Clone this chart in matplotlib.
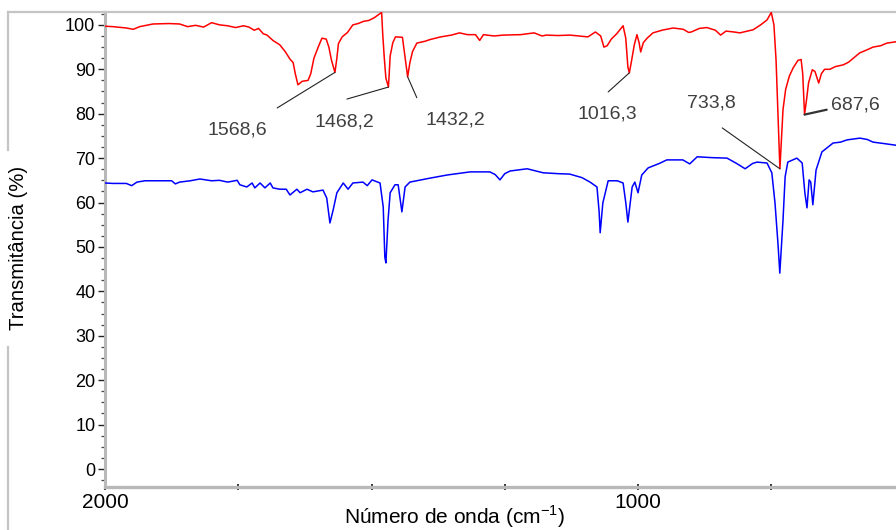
import matplotlib
matplotlib.use("Agg")
import matplotlib.pyplot as plt
from matplotlib.ticker import MultipleLocator, FixedLocator
from matplotlib.lines import Line2D

# ---------------- data ----------------
red_wn = [2000, 1985, 1960, 1947, 1935, 1910, 1880, 1860, 1845, 1830, 1815, 1800, 1785, 1770,
          1755, 1740, 1730, 1720, 1712, 1703, 1696, 1685, 1672, 1662, 1653, 1647, 1643, 1638,
          1630, 1619, 1614, 1608, 1600, 1593, 1585, 1580, 1575, 1568.6, 1565, 1562, 1555, 1545,
          1535, 1525, 1515, 1505, 1495, 1488, 1481, 1479, 1476, 1473, 1468.2, 1465, 1460, 1455,
          1442, 1438, 1432.2, 1428, 1423, 1415, 1400, 1390, 1370, 1350, 1335, 1320, 1305, 1297,
          1290, 1270, 1253, 1220, 1195, 1180, 1172, 1150, 1128, 1110, 1094, 1080, 1070, 1064,
          1058, 1050, 1040, 1028, 1023, 1019, 1016.3, 1012, 1007, 1002, 998, 995, 990, 983, 972,
          955, 934, 915, 905, 900, 885, 871, 855, 845, 835, 820, 809, 795, 784, 770, 758, 750,
          745, 741, 738, 735, 733.8, 731, 728, 723, 716, 709, 700, 694, 691, 687.6, 684, 680,
          673, 668, 664, 661, 656, 650, 640, 630, 615, 605, 595, 584, 570, 559, 545, 533, 516, 510]
red_t = [99.7, 99.6, 99.3, 99.0, 99.6, 100.2, 100.3, 100.2, 99.6, 99.9, 99.5, 100.5, 100.0, 99.8,
         99.4, 99.8, 99.5, 98.8, 99.2, 98.0, 97.7, 96.5, 95.5, 94.0, 92.3, 91.5, 89.0, 86.5,
         87.3, 87.5, 89.0, 92.5, 95.0, 97.0, 96.8, 95.0, 92.0, 89.3, 92.5, 95.8, 97.3, 98.3,
         100.0, 100.3, 100.8, 101.0, 101.6, 102.2, 102.8, 98.0, 92.5, 88.0, 86.0, 93.0, 96.0, 97.3,
         97.2, 93.5, 88.3, 91.5, 94.0, 95.9, 96.3, 96.7, 97.3, 97.7, 98.2, 97.8, 97.8, 96.5,
         97.8, 97.5, 97.7, 97.8, 98.2, 97.5, 97.7, 97.6, 97.7, 97.5, 97.3, 98.4, 97.5, 95.0,
         95.3, 96.8, 98.0, 99.8, 97.0, 90.5, 89.2, 92.0, 95.5, 97.8, 96.0, 93.9, 96.0, 97.0, 98.2,
         98.8, 99.3, 99.0, 98.3, 98.4, 99.2, 99.4, 98.8, 97.7, 98.6, 98.4, 98.2, 98.6, 98.9, 100.0, 101.1, 102.8,
         100.0, 92.0, 82.0, 72.0, 67.6, 74.0, 80.9, 85.5, 88.5, 90.3, 92.0, 92.2, 89.0, 79.8, 83.0, 87.0,
         89.9, 89.5, 88.0, 86.9, 89.0, 90.0, 90.0, 90.6, 91.0, 91.6, 92.6, 93.7, 94.4, 95.0, 95.3, 95.9, 96.2, 96.3]

blue_wn = [2000, 1985, 1960, 1950, 1940, 1925, 1900, 1875, 1868, 1860, 1840, 1822, 1800, 1785, 1770,
           1752, 1747, 1734, 1724, 1719, 1709, 1700, 1690, 1685, 1672, 1660, 1653, 1640, 1634, 1621,
           1610, 1591, 1584, 1578, 1572, 1565, 1553, 1544, 1535, 1516, 1508, 1499, 1484, 1478, 1475,
           1473, 1469, 1465, 1456, 1450, 1443, 1437, 1428, 1390, 1358, 1315, 1278, 1268, 1259, 1250,
           1240, 1208, 1178, 1150, 1128, 1105, 1090, 1077, 1073, 1071, 1066, 1056, 1039, 1028, 1023,
           1019, 1011, 1006, 1000, 993, 981, 960, 946, 916, 903, 889, 860, 833, 815, 799, 785, 777,
           758, 749, 743, 737, 734, 728, 724, 719, 702, 692, 687, 683, 679, 676, 672, 666, 655, 634,
           620, 608, 584, 570, 559, 540, 516, 510]
blue_t = [64.4, 64.3, 64.3, 63.8, 64.6, 64.9, 64.9, 64.9, 64.2, 64.6, 64.9, 65.3, 64.9, 65.0, 64.6,
          65.0, 64.0, 63.5, 64.4, 63.3, 64.4, 63.3, 64.4, 63.3, 63.0, 63.0, 61.7, 63.0, 62.2, 63.0,
          62.4, 62.8, 61.0, 55.4, 58.3, 62.2, 64.4, 63.0, 64.4, 64.6, 63.8, 65.1, 64.4, 59.0, 47.7,
          46.4, 56.0, 62.2, 64.0, 64.0, 57.9, 63.5, 64.6, 65.5, 66.2, 66.9, 66.9, 66.3, 65.1, 66.5,
          67.1, 67.6, 66.7, 66.5, 66.4, 65.6, 64.6, 63.5, 58.0, 53.2, 59.9, 64.9, 64.9, 64.4, 60.0,
          55.6, 63.5, 64.6, 62.2, 66.2, 67.8, 68.8, 69.6, 69.6, 68.7, 70.3, 70.1, 70.0, 68.8, 67.6, 68.8, 69.1,
          68.9, 66.7, 59.9, 50.0, 44.1, 56.0, 65.8, 69.1, 70.0, 68.9, 62.2, 58.8, 65.1, 64.6, 59.5, 67.3, 71.4, 73.4,
          73.6, 74.1, 74.5, 74.2, 73.6, 73.3, 72.9, 72.8]

peak_labels = ["1568,6", "1468,2", "1432,2", "1016,3", "733,8", "687,6"]
peak_wn = [1568.6, 1468.2, 1432.2, 1016.3, 733.8, 687.6]

x_ticks = [2000, 1000]
y_ticks = [0, 10, 20, 30, 40, 50, 60, 70, 80, 90, 100]

# ---------------- figure ----------------
W, H = 896, 530
fig = plt.figure(figsize=(W / 100, H / 100), dpi=100)
fig.patch.set_facecolor("white")

x0, x1 = 105, 896
y_top, y_bot = 12, 487
ax = fig.add_axes([x0 / W, (H - y_bot) / H, (x1 - x0) / W, (y_bot - y_top) / H])

ax.plot(red_wn, red_t, color="#ff0000", lw=1.1, zorder=3)
ax.plot(blue_wn, blue_t, color="#0000ff", lw=1.1, zorder=3)

ax.set_xlim(2000, 516)
ax.set_ylim(-4.05, 102.9)

# spines
ax.spines["right"].set_visible(False)
ax.spines["top"].set_color("#c4c4c4")
ax.spines["top"].set_linewidth(1.6)
ax.spines["left"].set_color("#b8b8b8")
ax.spines["left"].set_linewidth(2.2)
ax.spines["bottom"].set_color("#b8b8b8")
ax.spines["bottom"].set_linewidth(2.4)

# ticks
ax.yaxis.set_major_locator(FixedLocator(y_ticks))
ax.yaxis.set_minor_locator(MultipleLocator(2.5))
ax.xaxis.set_major_locator(FixedLocator(x_ticks))
ax.xaxis.set_minor_locator(MultipleLocator(250))
ax.tick_params(axis="y", which="major", length=5, width=1.0, color="#222222", pad=2,
               labelsize=13, labelcolor="black")
ax.tick_params(axis="y", which="minor", length=3, width=0.9, color="#444444")
ax.tick_params(axis="x", which="both", direction="inout", length=4, width=1.4, color="#333333",
               pad=2)
ax.tick_params(axis="x", which="major", labelsize=15)
for lab in ax.get_yticklabels():
    lab.set_family(["Liberation Sans", "DejaVu Sans"])
for lab in ax.get_xticklabels():
    lab.set_family(["Liberation Sans", "DejaVu Sans"])

# axis labels
fig.text(18 / W, 1 - 248 / H, "Transmitância (%)", rotation=90, ha="center", va="center",
         fontsize=14.6, family=["Liberation Sans", "DejaVu Sans"], color="black")
fig.text(455 / W, 1 - 517 / H, r"Número de onda (cm$^{\mathregular{-1}}$)", ha="center",
         va="center", fontsize=15, family=["Liberation Sans", "DejaVu Sans"],
         color="black")

# outer frame lines
fig.add_artist(Line2D([8 / W, 8 / W], [1 - 12 / H, 1 - 150 / H], color="#c4c4c4", lw=1.6,
                      transform=fig.transFigure))
fig.add_artist(Line2D([8 / W, 8 / W], [1 - 347 / H, 0], color="#c4c4c4", lw=1.6,
                      transform=fig.transFigure))
fig.add_artist(Line2D([8 / W, x0 / W], [1 - 12 / H, 1 - 12 / H], color="#c4c4c4", lw=1.6,
                      transform=fig.transFigure))

# peak annotations
def interp(xs, ys, x):
    for i in range(len(xs) - 1):
        a, b = xs[i], xs[i + 1]
        if (a - x) * (b - x) <= 0:
            if a == b:
                return ys[i]
            return ys[i] + (ys[i + 1] - ys[i]) * (x - a) / (b - a)
    return ys[-1]

line_end = [(1677, 81.3), (1546, 83.3), (1415, 83.6), (1056, 84.9), (842, 76.8), (646, 80.9)]
text_pos = [(1752, 76.4), (1550, 78.2), (1343, 78.6), (1058, 80.0), (863, 82.5), (593, 82.0)]
for lbl, wn, le, tp in zip(peak_labels, peak_wn, line_end, text_pos):
    yp = interp(red_wn, red_t, wn)
    heavy = lbl == "687,6"
    ax.annotate("", xy=(wn, yp), xytext=le,
                arrowprops=dict(arrowstyle="-", color="#333333" if heavy else "#222222",
                                lw=1.6 if heavy else 0.8, shrinkA=0, shrinkB=0), zorder=4)
    ax.text(tp[0], tp[1], lbl, ha="center", va="center", fontsize=14, color="#404040",
            family=["Liberation Sans", "DejaVu Sans"], zorder=5)

fig.savefig("out.png", dpi=100, facecolor="white")
